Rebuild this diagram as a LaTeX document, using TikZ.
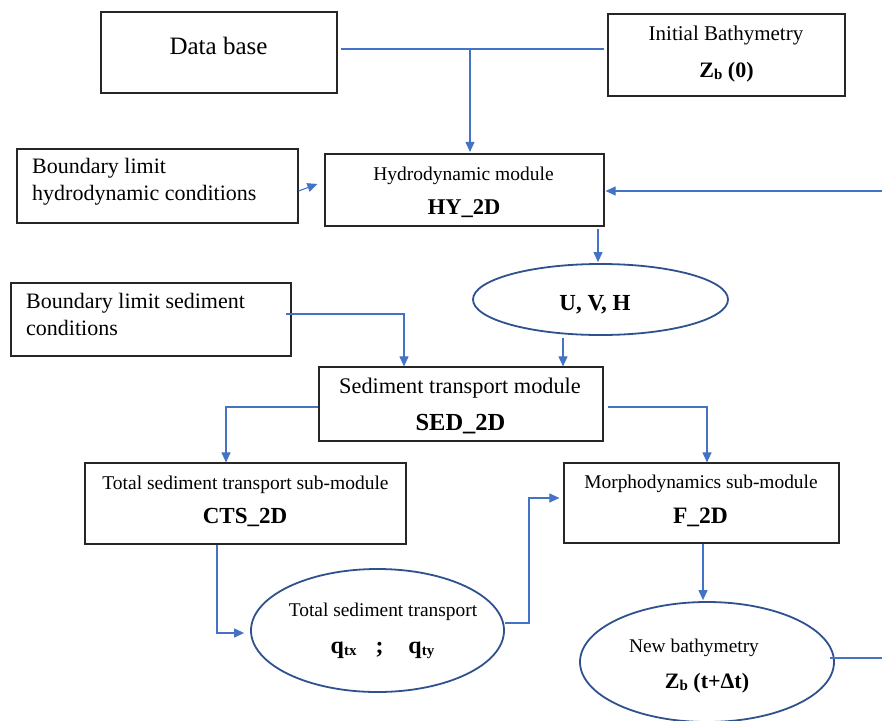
\documentclass[tikz,border=0pt]{standalone}
\usepackage{fontspec}
\setmainfont{Liberation Serif}
\usetikzlibrary{arrows.meta,shapes.geometric}
\definecolor{arrc}{HTML}{4472C4}
\definecolor{ellc}{HTML}{2F528F}
\definecolor{boxc}{HTML}{262626}
\newcommand{\myfs}[1]{\fontsize{#1}{#1}\selectfont}
\newcommand{\zsub}[1]{\raisebox{-2.5pt}{\myfs{15}#1}}
\begin{document}
\begin{tikzpicture}[x=1pt,y=-1pt,
  box/.style={draw=boxc,line width=1.2pt,inner sep=0pt},
  ell/.style={ellipse,draw=ellc,line width=1.8pt,inner sep=0pt},
  conn/.style={draw=arrc,line width=1.1pt},
  arr/.style={conn,-{Triangle[length=10pt,width=9pt]}},
  txt/.style={inner sep=0pt,anchor=base,text=black},
  ltxt/.style={inner sep=0pt,anchor=base west,text=black}]
\useasboundingbox (0,0) rectangle (882,720);
\fill[white] (0,0) rectangle (882,720);

% boxes
\node[box,minimum width=236pt,minimum height=81pt] (db) at (219,52.5) {};
\node[box,minimum width=237pt,minimum height=82pt] (ib) at (726.5,55) {};
\node[box,minimum width=281pt,minimum height=74pt] (blh) at (157.5,186) {};
\node[box,minimum width=279pt,minimum height=72pt] (hy) at (464.5,190) {};
\node[box,minimum width=280pt,minimum height=73pt] (bls) at (151,319.5) {};
\node[box,minimum width=284pt,minimum height=74pt] (sed) at (461,404) {};
\node[box,minimum width=321pt,minimum height=81pt] (cts) at (245.5,503.5) {};
\node[box,minimum width=275pt,minimum height=80pt] (f) at (701.5,503) {};
% ellipses
\node[ell,minimum width=255pt,minimum height=71pt] (uvh) at (600.5,299.5) {};
\node[ell,minimum width=253pt,minimum height=123pt] (q) at (377.5,630.5) {};
\node[ell,minimum width=254pt,minimum height=120pt] (nb) at (707,662) {};

% texts
\node[txt] (dbt) at (218.5,54) {\myfs{25}Data base};
\node[txt] (ibt1) at (726,40) {\myfs{21}Initial Bathymetry};
\node[txt] (ibt2) at (726.5,77) {\bfseries\myfs{22}Z\zsub{b} (0)};
\node[ltxt] (blht1) at (32,173) {\myfs{22}Boundary limit};
\node[ltxt] (blht2) at (32,200) {\myfs{22}hydrodynamic conditions};
\node[txt] (hyt1) at (463.5,180) {\myfs{19.5}Hydrodynamic module};
\node[txt] (hyt2) at (464,214) {\bfseries\myfs{22.5}HY\_2D};
\node[txt] (uvht) at (595,310) {\bfseries\myfs{23}U, V, H};
\node[ltxt] (blst1) at (26,308) {\myfs{22}Boundary limit sediment};
\node[ltxt] (blst2) at (26,335) {\myfs{22}conditions};
\node[txt] (sedt1) at (460,393) {\myfs{22.3}Sediment transport module};
\node[txt] (sedt2) at (460.5,430) {\bfseries\myfs{24.5}SED\_2D};
\node[txt] (ctst1) at (245.5,489) {\myfs{19.5}Total sediment transport sub-module};
\node[txt] (ctst2) at (245,523) {\bfseries\myfs{23}CTS\_2D};
\node[txt] (ft1) at (701,488) {\myfs{19.4}Morphodynamics sub-module};
\node[txt] (ft2) at (700.5,523) {\bfseries\myfs{23.5}F\_2D};
\node[txt] (qt1) at (383,616) {\myfs{19.4}Total sediment transport};
\node[txt] (qt2) at (382.5,653) {\bfseries\myfs{24}q\raisebox{-2pt}{\myfs{15}tx}\hspace{19pt};\hspace{25pt}q\raisebox{-2pt}{\myfs{15}ty}};
\node[txt] (nbt1) at (694,652) {\myfs{19.4}New bathymetry};
\node[txt] (nbt2) at (707,688) {\bfseries\myfs{22}Z\zsub{b} (t+Δt)};

% junction coordinates
\coordinate (j1) at (341,49);
\coordinate (j2) at (470,49);
\coordinate (j3) at (604,49);
\coordinate (r1) at (882,191);
\coordinate (a1) at (598,240);
\coordinate (a2) at (563,350);
\coordinate (b1) at (286,314);
\coordinate (b2) at (404,314);
\coordinate (s1) at (226,407);
\coordinate (s2) at (707,407);
\coordinate (c1) at (217,633);
\coordinate (c2) at (529,623);
\coordinate (c3) at (529,498);
\coordinate (c4) at (703,570);
\coordinate (r2) at (882,658);

% connectors
\draw[conn] (j1) -- (j3);
\draw[arr,shorten >=1.5pt] (j2) -- (j2 |- hy.north);
\draw[arr] ([yshift=-5pt]blh.east) -- ([xshift=-7pt,yshift=6pt]hy.west);
\draw[arr,shorten >=1pt] (r1) -- (hy.east |- r1);
\draw[arr,shorten <=2pt,shorten >=1pt] (hy.south -| a1) -- (uvh.north -| a1);
\draw[arr,shorten <=2pt] (uvh.south -| a2) -- (sed.north -| a2);
\draw[arr] (b1) -- (b2) -- (b2 |- sed.north);
\draw[arr] (sed.west |- s1) -- (s1) -- (s1 |- cts.north);
\draw[arr,shorten <=4pt] (sed.east |- s2) -- (s2) -- (s2 |- f.north);
\draw[arr,shorten >=6pt] (cts.south -| c1) -- (c1) -- (q.west |- c1);
\draw[arr,shorten >=4pt] (q.east |- c2) -- (c2) -- (c3) -- (f.west |- c3);
\draw[arr,shorten >=1pt] (f.south -| c4) -- (nb.north -| c4);
\draw[conn] ([xshift=-5pt]nb.east |- r2) -- (r2);
\end{tikzpicture}
\end{document}
